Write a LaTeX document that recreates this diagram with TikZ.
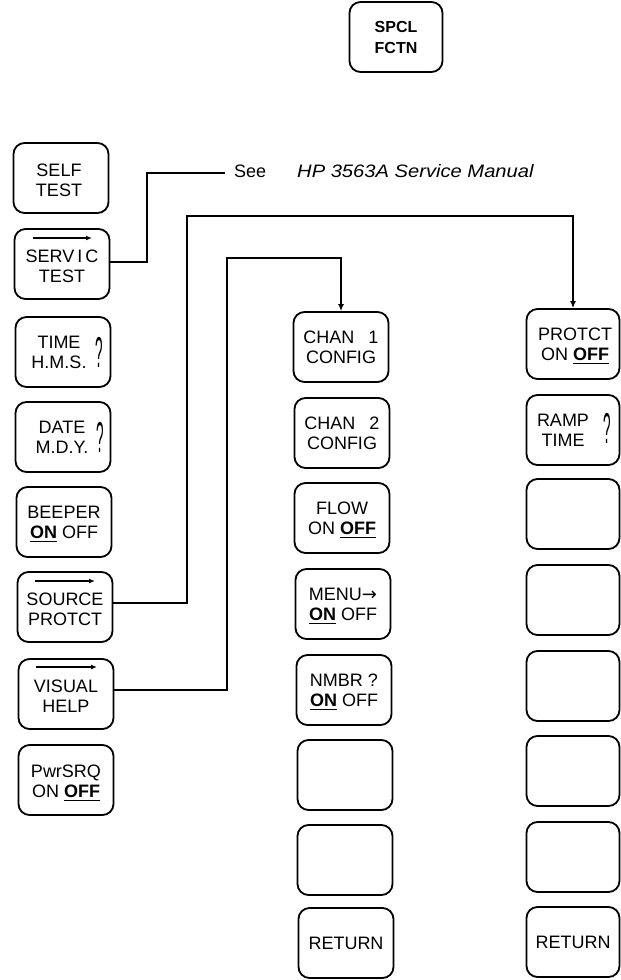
\documentclass[tikz,border=0pt]{standalone}
\usepackage{graphicx}
\usepackage{fontspec}
\setmainfont{Liberation Sans}
\newfontfamily\arrowfont{DejaVu Sans}
\usetikzlibrary{arrows.meta}
\newcommand\ulb[1]{\leavevmode\vtop{\hbox{\textbf{#1}}\kern2.5pt\hrule height 1.7pt}}
\newcommand\bigq{\scalebox{0.75}[2.4]{?}}
\begin{document}
\begin{tikzpicture}[x=1pt,y=-1pt,
  key/.style={draw, line width=1.8pt, rounded corners=11pt, minimum width=95pt, minimum height=70pt, inner sep=0pt},
  lbl/.style={align=center, font=\fontsize{18}{20}\selectfont, inner sep=0pt},
  qm/.style={font=\fontsize{18}{20}\selectfont, inner sep=0pt},
  conn/.style={line width=1.5pt},
  arr/.style={conn, -{Latex[length=7pt,width=6pt]}},
  bar/.style={line width=1.4pt, -{Latex[length=6pt,width=5pt]}}]
\useasboundingbox (0,0) rectangle (621,980);

% top key
\node[key, minimum width=93pt] (spcl) at (396,37) {};
\node[lbl, font=\fontsize{16}{21}\selectfont\bfseries] (spcl-t) at (spcl) {SPCL\\FCTN};

% left column
\node[key] (self) at (61,178) {};
\node[lbl] (self-t) at (59,180) {SELF\\TEST};
\node[key] (servic) at (62,264) {};
\node[lbl] (servic-t) at (62,266) {SERV\,I\,C\\TEST};
\draw[bar] ([shift={(-29,-26)}]servic.center) -- ([shift={(30,-26)}]servic.center);
\node[key] (time) at (63,352) {};
\node[lbl] (time-t) at (59,352) {TIME\\H.M.S.};
\node[qm] (time-q) at (99,352) {\bigq};
\node[key] (date) at (63,437) {};
\node[lbl] (date-t) at (62,437) {DATE\\M.D.Y.};
\node[qm] (date-q) at (100,437) {\bigq};
\node[key] (beeper) at (64,522) {};
\node[lbl] (beeper-t) at (64,524) {BEEPER\\\ulb{ON} OFF};
\node[key] (source) at (65,607) {};
\node[lbl] (source-t) at (65,609) {SOURCE\\PROTCT};
\draw[bar] ([shift={(-30,-26)}]source.center) -- ([shift={(30,-26)}]source.center);
\node[key] (visual) at (66,694) {};
\node[lbl] (visual-t) at (66,696) {VISUAL\\HELP};
\draw[bar] ([shift={(-30,-27)}]visual.center) -- ([shift={(31,-27)}]visual.center);
\node[key] (pwr) at (66,780) {};
\node[lbl] (pwr-t) at (66,783) {PwrSRQ\\ON \ulb{OFF}};

% middle column
\node[key] (chan1) at (341,347) {};
\node[lbl] (chan1-t) at (341,347) {CHAN\hspace{14pt}1\\CONFIG};
\node[key] (chan2) at (342,433) {};
\node[lbl] (chan2-t) at (342,433) {CHAN\hspace{14pt}2\\CONFIG};
\node[key] (flow) at (342,518) {};
\node[lbl] (flow-t) at (342,520) {FLOW\\ON \ulb{OFF}};
\node[key] (menu) at (343,604) {};
\node[lbl] (menu-t) at (343,606) {MENU{\arrowfont →}\\\ulb{ON} OFF};
\node[key] (nmbr) at (344,690) {};
\node[lbl] (nmbr-t) at (344,692) {NMBR ?\\\ulb{ON} OFF};
\node[key] (m6) at (345,775) {};
\node[key] (m7) at (345,860) {};
\node[key] (ret1) at (346,943) {};
\node[lbl] (ret1-t) at (346,943) {RETURN};

% right column
\node[key, minimum width=93pt] (protct) at (573,344) {};
\node[lbl] (protct-t) at (575,346) {PROTCT\\ON \ulb{OFF}};
\node[key, minimum width=93pt] (ramp) at (573,430) {};
\node[lbl] (ramp-t) at (563,430) {RAMP\\TIME};
\node[qm] (ramp-q) at (607,428) {\bigq};
\node[key, minimum width=93pt] (r3) at (573,514) {};
\node[key, minimum width=93pt] (r4) at (573,600) {};
\node[key, minimum width=93pt] (r5) at (573,686) {};
\node[key, minimum width=93pt] (r6) at (573,771) {};
\node[key, minimum width=93pt] (r7) at (573,857) {};
\node[key, minimum width=93pt] (ret2) at (573,942) {};
\node[lbl] (ret2-t) at (573,942) {RETURN};

% connectors
\coordinate (b1) at (147,173);
\coordinate (seeend) at (225,173);
\draw[conn] ([yshift=2pt]servic.east) -| (b1) -- (seeend);
\node[lbl, anchor=west] (see) at (234,171) {See};
\node[lbl, anchor=west, font=\fontsize{18}{20}\selectfont\itshape] (manual) at (297,171) {\scalebox{1.12}[1]{HP 3563A Service Manual}};

\coordinate (b2) at (187,216);
\draw[arr] ([yshift=4pt]source.east) -| (b2) -| (protct.north);
\coordinate (b3) at (227,258);
\draw[arr] ([yshift=4pt]visual.east) -| (b3) -| (chan1.north);
\end{tikzpicture}
\end{document}
